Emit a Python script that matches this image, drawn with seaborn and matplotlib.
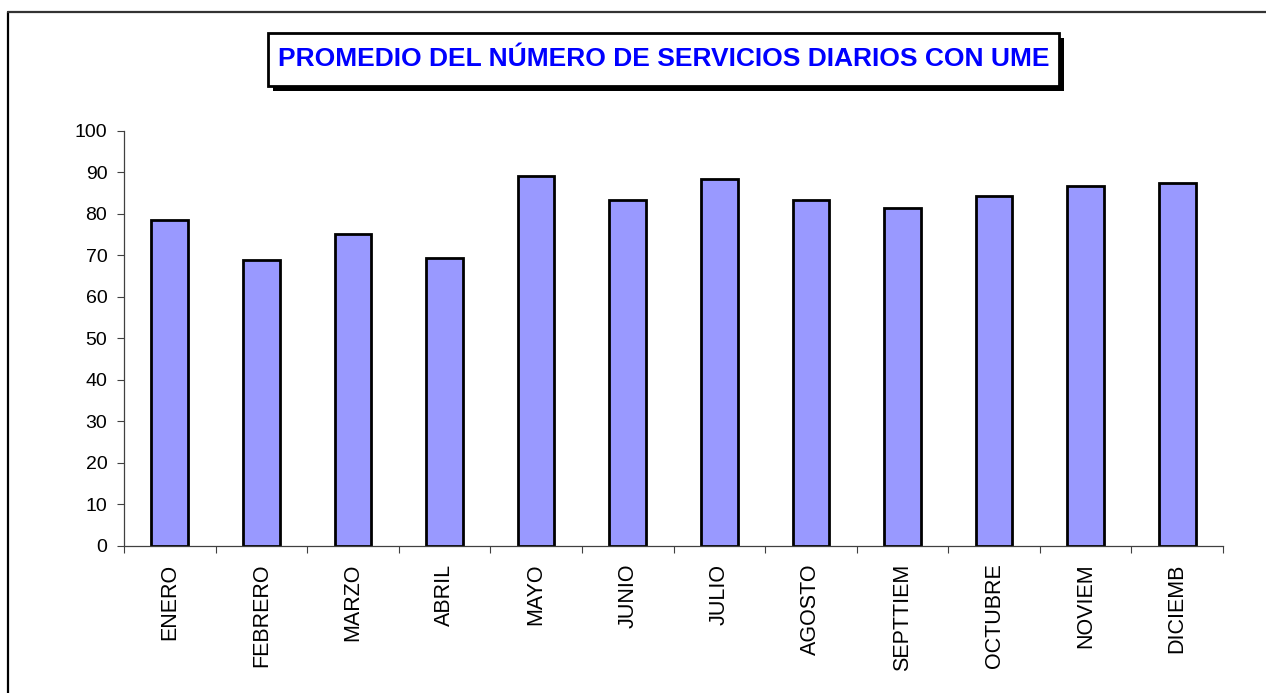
import matplotlib
matplotlib.use("Agg")
import matplotlib.pyplot as plt
import seaborn as sns
import pandas as pd
from matplotlib.patches import Rectangle
from matplotlib.lines import Line2D

months = ["ENERO", "FEBRERO", "MARZO", "ABRIL", "MAYO", "JUNIO", "JULIO",
          "AGOSTO", "SEPTTIEM", "OCTUBRE", "NOVIEM", "DICIEMB"]
values = [78.4, 68.9, 75.2, 69.4, 89.1, 83.4, 88.4, 83.2, 81.3, 84.2, 86.6, 87.4]
yticks = [0, 10, 20, 30, 40, 50, 60, 70, 80, 90, 100]
title = "PROMEDIO DEL NÚMERO DE SERVICIOS DIARIOS CON UME"

sns.set_theme(style="white")
plt.rcParams['font.family'] = ['Liberation Sans', 'DejaVu Sans']

df = pd.DataFrame({"mes": months, "valor": values})

W, H = 1266, 693
fig = plt.figure(figsize=(W / 100, H / 100), dpi=100)
ax = fig.add_axes([124 / W, 1 - 545.5 / H, (1223 - 124) / W, (545.5 - 130.7) / H])

sns.barplot(data=df, x="mes", y="valor", color="#9999FF", width=0.4,
            edgecolor="black", linewidth=2.0, saturation=1, ax=ax)

ax.set_xlim(-0.5, len(months) - 0.5)
ax.set_ylim(0, 100)
ax.set_yticks(yticks)
ax.set_yticklabels([str(v) for v in yticks], fontsize=14, color="black")
ax.set_xlabel("")
ax.set_ylabel("")
ax.set_xticks(range(len(months)))
ax.set_xticklabels(months, rotation=90, fontsize=15.5, color="black", va="top", ha="center")
ax.set_xticks([i - 0.5 for i in range(len(months) + 1)], minor=True)
ax.tick_params(axis="x", which="major", length=0, pad=13)
ax.tick_params(axis="x", which="minor", length=5, width=0.8, color="#404040", direction="out", bottom=True)
ax.tick_params(axis="y", which="major", length=5, width=0.8, color="#404040", pad=7, left=True)

for s in ["top", "right"]:
    ax.spines[s].set_visible(False)
for s in ["left", "bottom"]:
    ax.spines[s].set_color("#404040")
    ax.spines[s].set_linewidth(0.9)
ax.set_facecolor("white")
ax.grid(False)

# outer border (top and left visible)
fig.add_artist(Line2D([8 / W, 8 / W], [1 - 11.5 / H, 0], transform=fig.transFigure,
                      color="black", linewidth=1.6))
fig.add_artist(Line2D([8 / W, 1], [1 - 11.5 / H, 1 - 11.5 / H], transform=fig.transFigure,
                      color="#333333", linewidth=1.6))

# title box with shadow
bx0, bx1, by0, by1 = 267.7, 1059.3, 32.7, 86.0
off = 5
fig.add_artist(Rectangle(((bx0 + off) / W, 1 - (by1 + off) / H), (bx1 - bx0) / W, (by1 - by0) / H,
                         transform=fig.transFigure, facecolor="black", edgecolor="black", linewidth=0))
fig.add_artist(Rectangle((bx0 / W, 1 - by1 / H), (bx1 - bx0) / W, (by1 - by0) / H,
                         transform=fig.transFigure, facecolor="white", edgecolor="black", linewidth=2.0))
fig.text((bx0 + bx1) / 2 / W, 1 - (by0 + by1) / 2 / H, title, ha="center", va="center",
         fontsize=19, fontweight="bold", color="#0000FF")

fig.savefig("out.png", dpi=100, facecolor="white")
